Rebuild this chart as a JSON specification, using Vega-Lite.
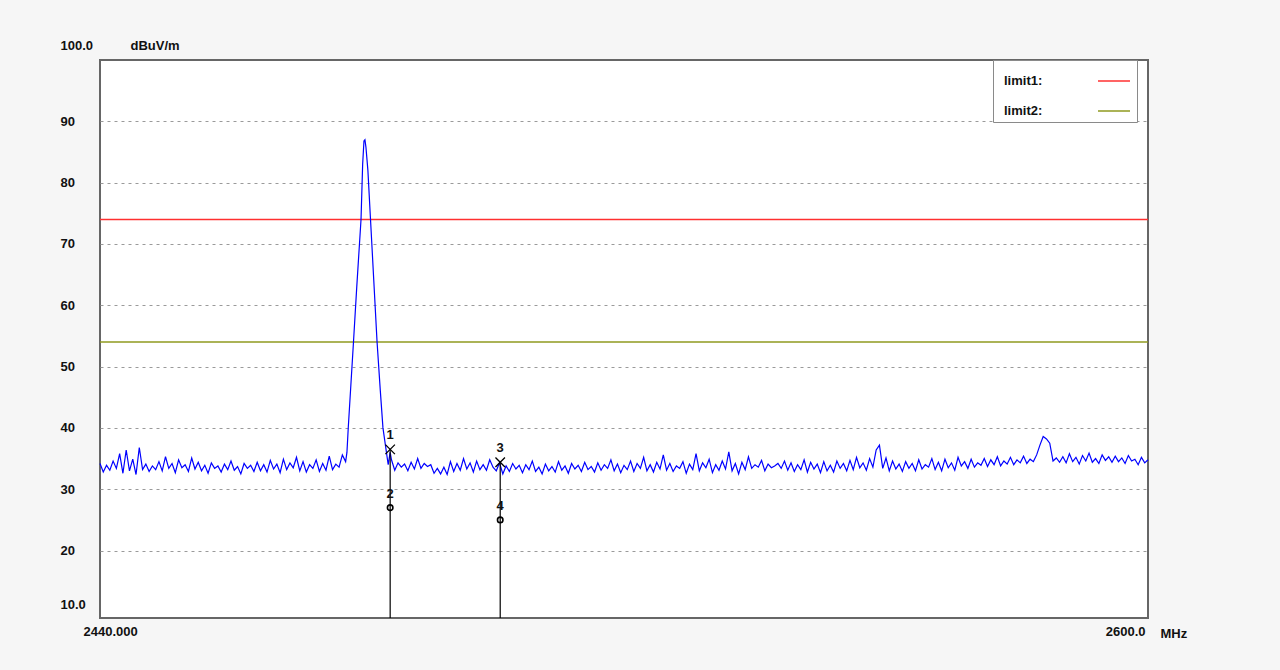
{
  "$schema": "https://vega.github.io/schema/vega-lite/v6.json",
  "width": 1048,
  "height": 558,
  "autosize": "none",
  "padding": {"left": 100, "top": 60, "right": 132, "bottom": 52},
  "background": "#f6f6f6",
  "config": {
    "view": {"fill": "white", "stroke": "#666666", "strokeWidth": 2},
    "font": "Liberation Sans"
  },
  "datasets": {
    "trace": [
      {"f":2440.0,"v":34.2},{"f":2440.5,"v":32.8},{"f":2441.0,"v":33.9},{"f":2441.5,"v":33.1},{"f":2442.0,"v":34.6},{"f":2442.5,"v":33.4},{"f":2443.0,"v":35.8},{"f":2443.5,"v":32.6},{"f":2444.0,"v":36.4},{"f":2444.5,"v":33.0},
      {"f":2445.0,"v":34.9},{"f":2445.5,"v":32.4},{"f":2446.0,"v":36.8},{"f":2446.5,"v":33.2},{"f":2447.0,"v":34.1},{"f":2447.5,"v":32.9},{"f":2448.0,"v":33.8},{"f":2448.5,"v":33.2},{"f":2449.0,"v":34.5},{"f":2449.5,"v":33.0},
      {"f":2450.0,"v":35.3},{"f":2450.5,"v":33.4},{"f":2451.0,"v":34.2},{"f":2451.5,"v":32.7},{"f":2452.0,"v":34.8},{"f":2452.5,"v":33.5},{"f":2453.0,"v":34.0},{"f":2453.5,"v":32.9},{"f":2454.0,"v":35.1},{"f":2454.5,"v":33.3},
      {"f":2455.0,"v":34.4},{"f":2455.5,"v":33.0},{"f":2456.0,"v":33.9},{"f":2456.5,"v":32.6},{"f":2457.0,"v":34.3},{"f":2457.5,"v":33.4},{"f":2458.0,"v":33.8},{"f":2458.5,"v":32.8},{"f":2459.0,"v":34.1},{"f":2459.5,"v":33.2},
      {"f":2460.0,"v":34.6},{"f":2460.5,"v":33.1},{"f":2461.0,"v":33.7},{"f":2461.5,"v":32.5},{"f":2462.0,"v":34.2},{"f":2462.5,"v":33.4},{"f":2463.0,"v":33.9},{"f":2463.5,"v":32.9},{"f":2464.0,"v":34.4},{"f":2464.5,"v":33.0},
      {"f":2465.0,"v":34.0},{"f":2465.5,"v":32.8},{"f":2466.0,"v":34.7},{"f":2466.5,"v":33.3},{"f":2467.0,"v":34.1},{"f":2467.5,"v":32.7},{"f":2468.0,"v":34.9},{"f":2468.5,"v":33.2},{"f":2469.0,"v":34.3},{"f":2469.5,"v":33.5},
      {"f":2470.0,"v":35.2},{"f":2470.5,"v":33.0},{"f":2471.0,"v":34.5},{"f":2471.5,"v":32.8},{"f":2472.0,"v":34.0},{"f":2472.5,"v":33.4},{"f":2473.0,"v":34.8},{"f":2473.5,"v":32.9},{"f":2474.0,"v":34.2},{"f":2474.5,"v":33.1},
      {"f":2475.0,"v":35.4},{"f":2475.5,"v":33.2},{"f":2476.0,"v":34.1},{"f":2476.5,"v":33.6},{"f":2477.0,"v":35.6},{"f":2477.5,"v":34.5},
      {"f":2477.7,"v":36.0},{"f":2477.9,"v":40.0},{"f":2478.3,"v":47.0},{"f":2478.7,"v":54.0},{"f":2479.2,"v":63.0},{"f":2479.85,"v":74.0},{"f":2480.1,"v":83.0},{"f":2480.3,"v":86.8},{"f":2480.45,"v":87.0},{"f":2480.6,"v":85.8},
      {"f":2480.9,"v":82.0},{"f":2481.3,"v":74.0},{"f":2481.8,"v":64.0},{"f":2482.3,"v":54.0},{"f":2482.8,"v":46.0},{"f":2483.2,"v":40.0},{"f":2483.6,"v":37.0},{"f":2484.0,"v":34.0},{"f":2484.3,"v":36.0},
      {"f":2484.5,"v":34.8},{"f":2485.0,"v":33.1},{"f":2485.5,"v":34.3},{"f":2486.0,"v":33.6},{"f":2486.5,"v":34.1},{"f":2487.0,"v":33.0},{"f":2487.5,"v":34.4},{"f":2488.0,"v":33.3},{"f":2488.5,"v":35.0},{"f":2489.0,"v":33.4},
      {"f":2489.5,"v":34.2},{"f":2490.0,"v":33.7},{"f":2490.5,"v":34.0},{"f":2491.0,"v":32.6},{"f":2491.5,"v":33.4},{"f":2492.0,"v":32.5},{"f":2492.5,"v":33.6},{"f":2493.0,"v":32.4},{"f":2493.5,"v":34.5},{"f":2494.0,"v":32.9},
      {"f":2494.5,"v":34.2},{"f":2495.0,"v":33.1},{"f":2495.5,"v":35.0},{"f":2496.0,"v":33.3},{"f":2496.5,"v":34.3},{"f":2497.0,"v":32.8},{"f":2497.5,"v":34.6},{"f":2498.0,"v":33.2},{"f":2498.5,"v":34.0},{"f":2499.0,"v":33.1},
      {"f":2499.5,"v":34.8},{"f":2500.0,"v":33.6},{"f":2500.5,"v":33.0},{"f":2501.0,"v":34.3},{"f":2501.5,"v":32.5},{"f":2502.0,"v":33.8},{"f":2502.5,"v":32.9},{"f":2503.0,"v":34.2},{"f":2503.5,"v":33.3},{"f":2504.0,"v":33.9},
      {"f":2504.5,"v":32.7},{"f":2505.0,"v":34.0},{"f":2505.5,"v":33.2},{"f":2506.0,"v":34.6},{"f":2506.5,"v":32.9},{"f":2507.0,"v":33.6},{"f":2507.5,"v":32.5},{"f":2508.0,"v":34.1},{"f":2508.5,"v":33.0},{"f":2509.0,"v":33.7},
      {"f":2509.5,"v":32.8},{"f":2510.0,"v":34.5},{"f":2510.5,"v":33.1},{"f":2511.0,"v":33.8},{"f":2511.5,"v":32.6},{"f":2512.0,"v":34.2},{"f":2512.5,"v":33.3},{"f":2513.0,"v":33.9},{"f":2513.5,"v":32.9},{"f":2514.0,"v":34.4},
      {"f":2514.5,"v":33.2},{"f":2515.0,"v":33.7},{"f":2515.5,"v":32.8},{"f":2516.0,"v":34.3},{"f":2516.5,"v":33.1},{"f":2517.0,"v":34.0},{"f":2517.5,"v":33.4},{"f":2518.0,"v":34.8},{"f":2518.5,"v":33.0},{"f":2519.0,"v":34.1},
      {"f":2519.5,"v":32.7},{"f":2520.0,"v":33.9},{"f":2520.5,"v":33.2},{"f":2521.0,"v":34.6},{"f":2521.5,"v":32.9},{"f":2522.0,"v":34.2},{"f":2522.5,"v":33.4},{"f":2523.0,"v":35.2},{"f":2523.5,"v":33.0},{"f":2524.0,"v":34.0},
      {"f":2524.5,"v":32.8},{"f":2525.0,"v":34.4},{"f":2525.5,"v":33.3},{"f":2526.0,"v":35.6},{"f":2526.5,"v":33.1},{"f":2527.0,"v":34.2},{"f":2527.5,"v":32.9},{"f":2528.0,"v":33.8},{"f":2528.5,"v":33.4},{"f":2529.0,"v":34.5},
      {"f":2529.5,"v":32.6},{"f":2530.0,"v":34.1},{"f":2530.5,"v":33.2},{"f":2531.0,"v":35.8},{"f":2531.5,"v":33.0},{"f":2532.0,"v":34.3},{"f":2532.5,"v":33.5},{"f":2533.0,"v":34.9},{"f":2533.5,"v":32.7},{"f":2534.0,"v":34.0},
      {"f":2534.5,"v":33.1},{"f":2535.0,"v":34.6},{"f":2535.5,"v":33.3},{"f":2536.0,"v":36.1},{"f":2536.5,"v":33.0},{"f":2537.0,"v":34.2},{"f":2537.5,"v":32.5},{"f":2538.0,"v":34.4},{"f":2538.5,"v":33.2},{"f":2539.0,"v":35.3},
      {"f":2539.5,"v":33.4},{"f":2540.0,"v":34.0},{"f":2540.5,"v":33.6},{"f":2541.0,"v":34.7},{"f":2541.5,"v":33.0},{"f":2542.0,"v":34.1},{"f":2542.5,"v":33.5},{"f":2543.0,"v":33.8},{"f":2543.5,"v":34.2},{"f":2544.0,"v":33.4},
      {"f":2544.5,"v":34.6},{"f":2545.0,"v":33.1},{"f":2545.5,"v":34.3},{"f":2546.0,"v":32.9},{"f":2546.5,"v":34.0},{"f":2547.0,"v":33.2},{"f":2547.5,"v":34.8},{"f":2548.0,"v":32.8},{"f":2548.5,"v":34.4},{"f":2549.0,"v":33.3},
      {"f":2549.5,"v":34.1},{"f":2550.0,"v":32.7},{"f":2550.5,"v":34.5},{"f":2551.0,"v":33.0},{"f":2551.5,"v":33.9},{"f":2552.0,"v":32.8},{"f":2552.5,"v":34.6},{"f":2553.0,"v":33.4},{"f":2553.5,"v":34.2},{"f":2554.0,"v":33.0},
      {"f":2554.5,"v":34.7},{"f":2555.0,"v":33.2},{"f":2555.5,"v":35.2},{"f":2556.0,"v":33.5},{"f":2556.5,"v":34.3},{"f":2557.0,"v":33.1},{"f":2557.5,"v":35.0},{"f":2558.0,"v":33.6},{"f":2558.5,"v":36.4},{"f":2559.0,"v":37.2},
      {"f":2559.5,"v":33.4},{"f":2560.0,"v":35.1},{"f":2560.5,"v":33.0},{"f":2561.0,"v":34.6},{"f":2561.5,"v":33.3},{"f":2562.0,"v":34.1},{"f":2562.5,"v":32.9},{"f":2563.0,"v":34.5},{"f":2563.5,"v":33.4},{"f":2564.0,"v":34.2},
      {"f":2564.5,"v":33.0},{"f":2565.0,"v":34.8},{"f":2565.5,"v":33.3},{"f":2566.0,"v":34.0},{"f":2566.5,"v":33.6},{"f":2567.0,"v":35.0},{"f":2567.5,"v":33.2},{"f":2568.0,"v":34.4},{"f":2568.5,"v":33.0},{"f":2569.0,"v":34.9},
      {"f":2569.5,"v":33.5},{"f":2570.0,"v":34.3},{"f":2570.5,"v":33.1},{"f":2571.0,"v":35.2},{"f":2571.5,"v":33.8},{"f":2572.0,"v":34.5},{"f":2572.5,"v":33.4},{"f":2573.0,"v":34.9},{"f":2573.5,"v":33.6},{"f":2574.0,"v":34.3},
      {"f":2574.5,"v":33.9},{"f":2575.0,"v":35.0},{"f":2575.5,"v":33.7},{"f":2576.0,"v":34.8},{"f":2576.5,"v":34.0},{"f":2577.0,"v":35.3},{"f":2577.5,"v":33.8},{"f":2578.0,"v":34.6},{"f":2578.5,"v":34.1},{"f":2579.0,"v":35.2},
      {"f":2579.5,"v":34.0},{"f":2580.0,"v":34.8},{"f":2580.5,"v":34.3},{"f":2581.0,"v":35.4},{"f":2581.5,"v":34.2},{"f":2582.0,"v":34.9},{"f":2582.5,"v":34.5},{"f":2583.0,"v":35.6},{"f":2583.5,"v":37.2},{"f":2584.0,"v":38.6},
      {"f":2584.5,"v":38.2},{"f":2585.0,"v":37.5},{"f":2585.5,"v":34.6},{"f":2586.0,"v":35.1},{"f":2586.5,"v":34.4},{"f":2587.0,"v":35.3},{"f":2587.5,"v":34.3},{"f":2588.0,"v":35.8},{"f":2588.5,"v":34.5},{"f":2589.0,"v":35.2},
      {"f":2589.5,"v":34.1},{"f":2590.0,"v":35.5},{"f":2590.5,"v":34.6},{"f":2591.0,"v":35.9},{"f":2591.5,"v":34.4},{"f":2592.0,"v":35.0},{"f":2592.5,"v":34.2},{"f":2593.0,"v":35.6},{"f":2593.5,"v":34.7},{"f":2594.0,"v":35.3},
      {"f":2594.5,"v":34.4},{"f":2595.0,"v":35.4},{"f":2595.5,"v":34.5},{"f":2596.0,"v":35.1},{"f":2596.5,"v":34.2},{"f":2597.0,"v":35.5},{"f":2597.5,"v":34.6},{"f":2598.0,"v":34.9},{"f":2598.5,"v":34.0},{"f":2599.0,"v":35.2},
      {"f":2599.5,"v":34.3},{"f":2600.0,"v":34.8}
    ],
    "limits": [
      {"name": "limit1:", "v": 74},
      {"name": "limit2:", "v": 54}
    ],
    "markers": [
      {"f": 2484.3, "v": 36.5, "n": "1", "kind": "peak"},
      {"f": 2484.3, "v": 27.0, "n": "2", "kind": "avg"},
      {"f": 2501.1, "v": 34.4, "n": "3", "kind": "peak"},
      {"f": 2501.1, "v": 25.0, "n": "4", "kind": "avg"}
    ]
  },
  "encoding": {
    "x": {
      "field": "f", "type": "quantitative",
      "scale": {"domain": [2440, 2600], "nice": false, "zero": false},
      "axis": {
        "values": [2440, 2600],
        "labelExpr": "datum.value == 2440 ? '2440.000' : '2600.0'",
        "labelAlign": {"condition": {"test": "datum.value == 2440", "value": "left"}, "value": "right"},
        "labelOffset": {"condition": {"test": "datum.value == 2440", "value": -17}, "value": -3},
        "labelFlush": false,
        "labelBound": false,
        "labelPadding": 7,
        "labelFont": "Liberation Sans",
        "labelFontWeight": "bold",
        "labelFontSize": 13,
        "labelColor": "#111111",
        "ticks": false,
        "domain": false,
        "grid": false,
        "title": "MHz",
        "titleX": 1060,
        "titleY": 15,
        "titleAlign": "left",
        "titleBaseline": "middle",
        "titleFont": "Liberation Sans",
        "titleFontWeight": "bold",
        "titleFontSize": 13,
        "titleColor": "#111111"
      }
    }
  },
  "layer": [
    {
      "data": {"name": "limits"},
      "mark": {"type": "rule", "strokeWidth": 1.5},
      "encoding": {
        "x": null,
        "y": {
          "field": "v", "type": "quantitative",
          "scale": {"domain": [9, 100], "nice": false, "zero": false},
          "axis": {
            "values": [10, 20, 30, 40, 50, 60, 70, 80, 90, 100],
            "labelExpr": "datum.value == 100 ? '100.0' : datum.value == 10 ? '10.0' : datum.label",
            "labelAlign": "left",
            "labelPadding": 40,
            "labelOffset": {"condition": [{"test": "datum.value == 100", "value": -15}, {"test": "datum.value == 10", "value": -7}], "value": 0},
            "labelFont": "Liberation Sans",
            "labelFontWeight": "bold",
            "labelFontSize": 13,
            "labelColor": "#111111",
            "ticks": false,
            "domain": false,
            "grid": true,
            "gridColor": "#9a9a9a",
            "gridDash": [3, 4],
            "gridWidth": 1,
            "gridOpacity": {"condition": {"test": "datum.value == 100 || datum.value == 10", "value": 0}, "value": 1},
            "title": "dBuV/m",
            "titleAngle": 0,
            "titleX": 30,
            "titleY": -15,
            "titleAlign": "left",
            "titleBaseline": "middle",
            "titleFont": "Liberation Sans",
            "titleFontWeight": "bold",
            "titleFontSize": 13,
            "titleColor": "#111111"
          }
        },
        "color": {
          "field": "name", "type": "nominal",
          "scale": {"domain": ["limit1:", "limit2:"], "range": ["#ff3030", "#8f9a1f"]},
          "legend": {
            "orient": "none",
            "legendX": 893,
            "legendY": 0,
            "title": null,
            "symbolType": "stroke",
            "symbolSize": 1024,
            "symbolStrokeWidth": 1.5,
            "symbolOffset": 100,
            "labelOffset": -127,
            "padding": 4,
            "rowPadding": 6,
            "strokeColor": "#8a8a8a",
            "fillColor": "white",
            "labelFont": "Liberation Sans",
            "labelFontWeight": "bold",
            "labelFontSize": 13,
            "labelColor": "#111111"
          }
        }
      }
    },
    {
      "data": {"name": "trace"},
      "mark": {"type": "line", "color": "#0000ff", "strokeWidth": 1.2, "interpolate": "linear"},
      "encoding": {
        "y": {"field": "v", "type": "quantitative"}
      }
    },
    {
      "data": {"name": "markers"},
      "transform": [{"filter": "datum.kind == 'peak'"}],
      "mark": {"type": "rule", "color": "#000000", "strokeWidth": 1.2},
      "encoding": {
        "y": {"field": "v", "type": "quantitative"},
        "y2": {"datum": 9}
      }
    },
    {
      "data": {"name": "markers"},
      "transform": [{"filter": "datum.kind == 'peak'"}],
      "mark": {"type": "point", "shape": "M-1,-1L1,1M1,-1L-1,1", "size": 90, "filled": false, "color": "#000000", "strokeWidth": 1.3, "opacity": 1},
      "encoding": {
        "y": {"field": "v", "type": "quantitative"}
      }
    },
    {
      "data": {"name": "markers"},
      "transform": [{"filter": "datum.kind == 'avg'"}],
      "mark": {"type": "point", "shape": "circle", "size": 30, "filled": false, "color": "#000000", "strokeWidth": 1.6, "opacity": 1},
      "encoding": {
        "y": {"field": "v", "type": "quantitative"}
      }
    },
    {
      "data": {"name": "markers"},
      "mark": {"type": "text", "dy": -14, "font": "Liberation Sans", "fontWeight": "bold", "fontSize": 13, "color": "#111111"},
      "encoding": {
        "y": {"field": "v", "type": "quantitative"},
        "text": {"field": "n"}
      }
    }
  ]
}
